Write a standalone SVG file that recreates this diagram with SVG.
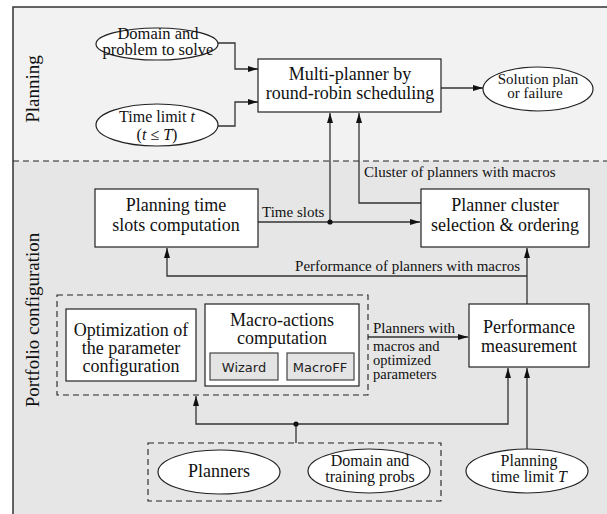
<svg xmlns="http://www.w3.org/2000/svg" width="607" height="514" viewBox="0 0 607 514">
<style>
.t{font-family:"Liberation Serif","Times New Roman",serif;fill:#111;}
.box{fill:#fff;stroke:#222;stroke-width:1.2;}
.ell{fill:#fff;stroke:#222;stroke-width:1.2;}
.sub{fill:#e4e4e4;stroke:#444;stroke-width:1.2;}
.dash{fill:none;stroke:#222;stroke-width:1.1;stroke-dasharray:6,4;}
.c{fill:none;stroke:#333;stroke-width:1.3;}
.s{font-family:"DejaVu Sans","Liberation Sans",sans-serif;font-size:13px;fill:#222;}
</style>
<defs>
<marker id="ah" viewBox="0 0 10 6" refX="10" refY="3" markerWidth="10" markerHeight="6" markerUnits="userSpaceOnUse" orient="auto">
<path d="M0,0 L10,3 L0,6 Z" fill="#111"/>
</marker>
</defs>
<g id="background">
<rect x="13" y="7" width="594" height="154" fill="#f2f2f2"/>
<rect x="13" y="161" width="594" height="353" fill="#e6e6e6"/>
<path d="M13,514 V7 H607" fill="none" stroke="#333" stroke-width="1.5"/>
<line x1="13" y1="161" x2="607" y2="161" class="dash"/>
<text class="t" font-size="19" transform="translate(39,89) rotate(-90)" text-anchor="middle">Planning</text>
<text class="t" font-size="19" transform="translate(39,320) rotate(-90)" text-anchor="middle">Portfolio configuration</text>
</g>
<g id="connectors">
<path class="c" d="M218,43 H235 V69 H258" marker-end="url(#ah)"/>
<path class="c" d="M218,126 H235 V102 H258" marker-end="url(#ah)"/>
<path class="c" d="M441,88 H483" marker-end="url(#ah)"/>
<path class="c" d="M258,222 H420" marker-end="url(#ah)"/>
<path class="c" d="M330,222 V113" marker-end="url(#ah)"/>
<circle cx="330" cy="222" r="2.6" fill="#111"/>
<path class="c" d="M421,203 H359 V113" marker-end="url(#ah)"/>
<path class="c" d="M527,304 V248" marker-end="url(#ah)"/>
<path class="c" d="M527,276 H167 V248" marker-end="url(#ah)"/>
<path class="c" d="M368,337 H468" marker-end="url(#ah)"/>
<path class="c" d="M296,443 V424"/>
<path class="c" d="M296,424 H196 V396" marker-end="url(#ah)"/>
<path class="c" d="M296,424 H508 V368" marker-end="url(#ah)"/>
<circle cx="296" cy="424" r="2.6" fill="#111"/>
<path class="c" d="M527,449 V368" marker-end="url(#ah)"/>
<text class="t" font-size="15" x="262" y="217">Time slots</text>
<text class="t" font-size="15" x="364" y="177">Cluster of planners with macros</text>
<text class="t" font-size="15" x="520" y="271" text-anchor="end">Performance of planners with macros</text>
<text class="t" font-size="15" x="373" y="333">Planners with</text>
<text class="t" font-size="14.5" x="373" y="351">macros and</text>
<text class="t" font-size="14.5" x="373" y="365">optimized</text>
<text class="t" font-size="14.5" x="373" y="379">parameters</text>
</g>
<g id="domain-problem">
<ellipse class="ell" cx="157" cy="44" rx="61" ry="16"/>
<text class="t" font-size="16.5" text-anchor="middle"><tspan x="158" y="39">Domain and</tspan><tspan x="158" y="55">problem to solve</tspan></text>
</g>
<g id="time-limit">
<ellipse class="ell" cx="157" cy="125" rx="61" ry="21"/>
<text class="t" font-size="16" text-anchor="middle"><tspan x="157" y="122">Time limit <tspan font-style="italic">t</tspan></tspan><tspan x="157" y="140">(<tspan font-style="italic">t</tspan> ≤ <tspan font-style="italic">T</tspan>)</tspan></text>
</g>
<g id="multi-planner">
<rect class="box" x="258" y="59" width="183" height="53"/>
<text class="t" font-size="18" text-anchor="middle"><tspan x="350" y="80">Multi-planner by</tspan><tspan x="350" y="99">round-robin scheduling</tspan></text>
</g>
<g id="solution">
<ellipse class="ell" cx="538" cy="89" rx="55" ry="22"/>
<text class="t" font-size="15" text-anchor="middle"><tspan x="538" y="84">Solution plan</tspan><tspan x="535" y="98">or failure</tspan></text>
</g>
<g id="time-slots">
<rect class="box" x="95" y="189" width="163" height="58"/>
<text class="t" font-size="18" text-anchor="middle"><tspan x="176" y="211">Planning time</tspan><tspan x="176" y="231">slots computation</tspan></text>
</g>
<g id="cluster">
<rect class="box" x="421" y="189" width="168" height="58"/>
<text class="t" font-size="18" text-anchor="middle"><tspan x="505" y="211">Planner cluster</tspan><tspan x="505" y="231">selection &amp; ordering</tspan></text>
</g>
<g id="config-group">
<rect class="dash" x="57" y="295" width="311" height="100"/>
</g>
<g id="optimization">
<rect class="box" x="66" y="309" width="130" height="72"/>
<text class="t" font-size="18" text-anchor="middle"><tspan x="131" y="336">Optimization of</tspan><tspan x="131" y="354">the parameter</tspan><tspan x="131" y="372">configuration</tspan></text>
</g>
<g id="macro-actions">
<rect class="box" x="205" y="304" width="154" height="82"/>
<text class="t" font-size="18" text-anchor="middle"><tspan x="282" y="326">Macro-actions</tspan><tspan x="282" y="344">computation</tspan></text>
<rect class="sub" x="210" y="353" width="68" height="27"/>
<text class="s" x="244" y="372" text-anchor="middle">Wizard</text>
<rect class="sub" x="287" y="353" width="67" height="27"/>
<text class="s" x="320" y="372" text-anchor="middle">MacroFF</text>
</g>
<g id="performance">
<rect class="box" x="469" y="304" width="120" height="63"/>
<text class="t" font-size="18" text-anchor="middle"><tspan x="529" y="333">Performance</tspan><tspan x="529" y="352">measurement</tspan></text>
</g>
<g id="inputs-group">
<rect class="dash" x="148" y="443" width="293" height="58"/>
</g>
<g id="planners">
<ellipse class="ell" cx="219" cy="472" rx="61" ry="22"/>
<text class="t" font-size="18" x="219" y="477" text-anchor="middle">Planners</text>
</g>
<g id="domain-training">
<ellipse class="ell" cx="369" cy="471" rx="61" ry="22"/>
<text class="t" font-size="16" text-anchor="middle"><tspan x="370" y="466">Domain and</tspan><tspan x="370" y="482">training probs</tspan></text>
</g>
<g id="planning-time-limit">
<ellipse class="ell" cx="527" cy="471" rx="61" ry="22"/>
<text class="t" font-size="16" text-anchor="middle"><tspan x="529" y="466">Planning</tspan><tspan x="529" y="482">time limit <tspan font-style="italic">T</tspan></tspan></text>
</g>
</svg>
